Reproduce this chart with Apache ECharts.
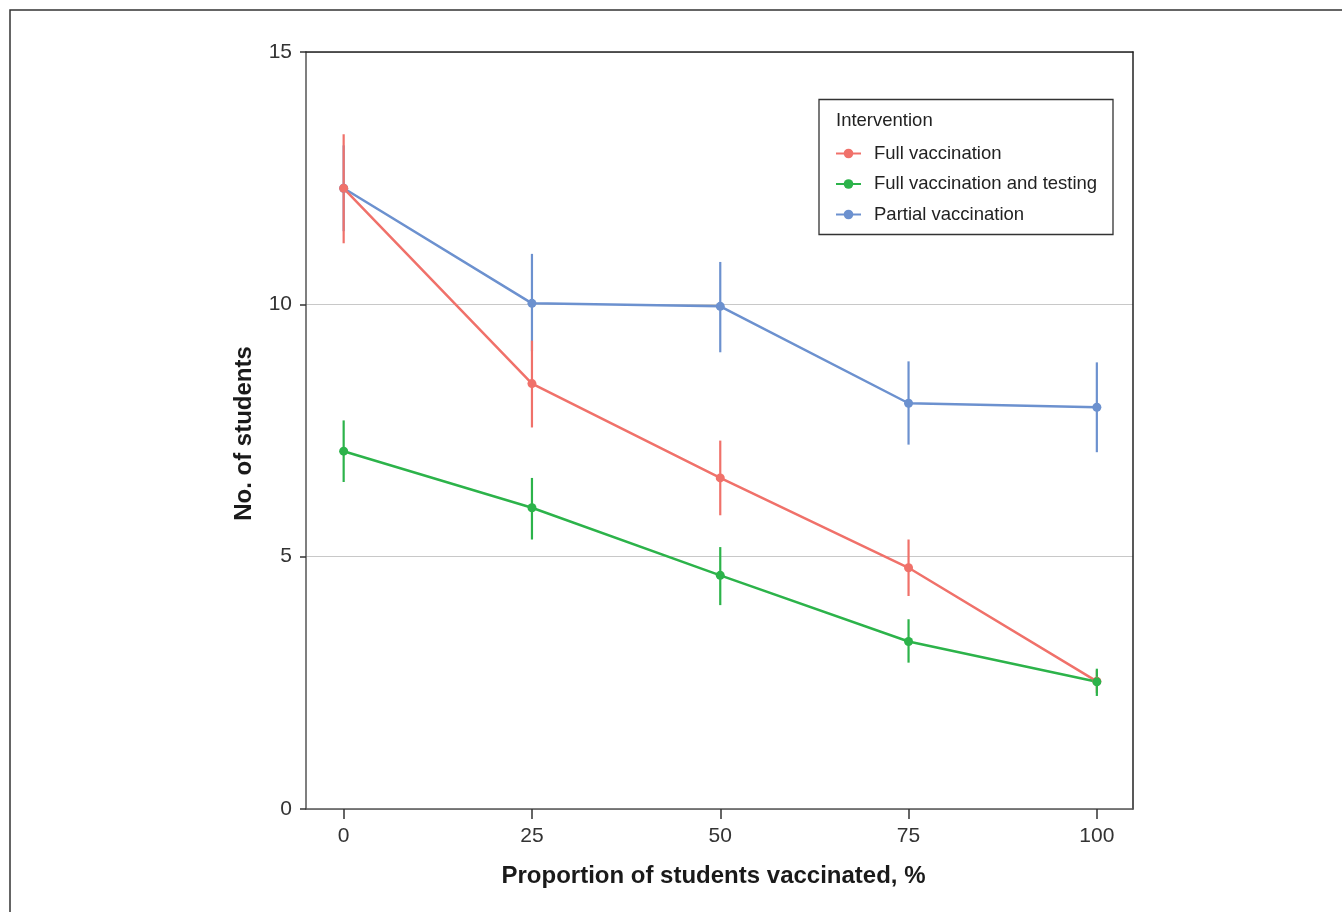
<!DOCTYPE html>
<html>
<head>
<meta charset="utf-8">
<script src="https://cdn.jsdelivr.net/npm/echarts@6/dist/echarts.min.js"></script>
<style>
  html, body { margin: 0; padding: 0; background: #fff; }
  #chart { width: 1342px; height: 912px; }
</style>
</head>
<body>
<div id="chart"></div>
<script>
const proportions = [0, 25, 50, 75, 100];
const xTicks = [0, 25, 50, 75, 100];

const seriesNames = ["Full vaccination", "Full vaccination and testing", "Partial vaccination"];

const fullMean = [12.30, 8.43, 6.56, 4.78, 2.53];
const fullLow = [11.21, 7.56, 5.82, 4.22, 2.30];
const fullHigh = [13.37, 9.28, 7.30, 5.34, 2.75];

const testMean = [7.09, 5.97, 4.63, 3.32, 2.52];
const testLow = [6.48, 5.34, 4.04, 2.90, 2.24];
const testHigh = [7.70, 6.56, 5.19, 3.76, 2.78];

const partialMean = [12.30, 10.02, 9.96, 8.04, 7.96];
const partialLow = [11.45, 9.07, 9.05, 7.22, 7.07];
const partialHigh = [13.15, 11.00, 10.84, 8.87, 8.85];

const colors = {
  "Full vaccination": "#F0716A",
  "Full vaccination and testing": "#2CB34A",
  "Partial vaccination": "#6C91CF",
};

const font = "'Liberation Sans', Arial, sans-serif";

const chart = echarts.init(document.getElementById("chart"));

const lineSeries = (name, mean) => ({
  name: name,
  type: "line",
  data: proportions.map((p, i) => [p, mean[i]]),
  symbol: "circle",
  symbolSize: 9,
  itemStyle: { color: colors[name] },
  lineStyle: { color: colors[name], width: 2.5 },
  emphasis: { disabled: true },
});

// vertical error bar per point, low..high
const errorSeries = (name, low, high) => ({
  name: name,
  type: "custom",
  data: proportions.map((p, i) => [p, low[i], high[i]]),
  encode: { x: 0, y: [1, 2] },
  renderItem: (params, api) => {
    const a = api.coord([api.value(0), api.value(1)]);
    const b = api.coord([api.value(0), api.value(2)]);
    return {
      type: "line",
      shape: { x1: a[0], y1: a[1], x2: b[0], y2: b[1] },
      style: { stroke: colors[name], lineWidth: 2.2 },
    };
  },
  silent: true,
});

const option = {
  animation: false,
  textStyle: { fontFamily: font },
  grid: { left: 306, top: 52, width: 827, height: 757 },
  xAxis: [
    {
      type: "value",
      min: -5,
      max: 104.8,
      name: "Proportion of students vaccinated, %",
      nameLocation: "middle",
      nameGap: 55,
      nameTextStyle: {
        fontSize: 24, fontWeight: "bold", color: "#1a1a1a", fontFamily: font,
        padding: [0, 12, 0, 0],
      },
      axisLine: { show: true, onZero: false, lineStyle: { color: "#555", width: 1.5 } },
      axisTick: { show: true, customValues: xTicks, length: 10, lineStyle: { color: "#333", width: 1.5 } },
      axisLabel: { customValues: xTicks, fontSize: 21, color: "#333", margin: 17, fontFamily: font },
      splitLine: { show: false },
    },
    {
      type: "value",
      position: "top",
      min: -5,
      max: 104.8,
      axisLine: { show: true, onZero: false, lineStyle: { color: "#222", width: 1.5 } },
      axisTick: { show: false },
      axisLabel: { show: false },
      splitLine: { show: false },
    },
  ],
  yAxis: [
    {
      type: "value",
      min: 0,
      max: 15,
      interval: 5,
      name: "No. of students",
      nameLocation: "middle",
      nameGap: 50,
      nameTextStyle: {
        fontSize: 24, fontWeight: "bold", color: "#1a1a1a", fontFamily: font,
        padding: [0, 6, 0, 0],
      },
      axisLine: { show: true, onZero: false, lineStyle: { color: "#555", width: 1.5 } },
      axisTick: { show: true, length: 6, lineStyle: { color: "#333", width: 1.5 } },
      axisLabel: { fontSize: 21, color: "#333", margin: 14, fontFamily: font },
      splitLine: { show: true, lineStyle: { color: "#c8c8c8", width: 1.2 } },
    },
    {
      type: "value",
      position: "right",
      min: 0,
      max: 15,
      axisLine: { show: true, onZero: false, lineStyle: { color: "#222", width: 1.5 } },
      axisTick: { show: false },
      axisLabel: { show: false },
      splitLine: { show: false },
    },
  ],
  legend: {
    data: seriesNames,
    orient: "vertical",
    left: 835,
    top: 143.5,
    padding: 0,
    itemWidth: 25,
    itemHeight: 12,
    itemGap: 10.5,
    selectedMode: false,
    textStyle: { fontSize: 18.5, color: "#222", lineHeight: 20, padding: [0, 0, 0, 8], fontFamily: font },
  },
  graphic: [
    {
      type: "rect",
      shape: { x: 10, y: 10, width: 1340, height: 910 },
      style: { fill: "none", stroke: "#333", lineWidth: 1.5 },
      silent: true,
    },
    {
      type: "rect",
      shape: { x: 819, y: 99.5, width: 294, height: 135 },
      style: { fill: "#fff", stroke: "#333", lineWidth: 1.3 },
      z: 0,
      silent: true,
    },
    {
      type: "text",
      left: 836,
      top: 111,
      style: { text: "Intervention", fontSize: 18.5, fill: "#222", fontFamily: font },
      silent: true,
    },
  ],
  series: [
    lineSeries("Partial vaccination", partialMean),
    errorSeries("Partial vaccination", partialLow, partialHigh),
    lineSeries("Full vaccination", fullMean),
    errorSeries("Full vaccination", fullLow, fullHigh),
    lineSeries("Full vaccination and testing", testMean),
    errorSeries("Full vaccination and testing", testLow, testHigh),
  ],
};

chart.setOption(option);
</script>
</body>
</html>
